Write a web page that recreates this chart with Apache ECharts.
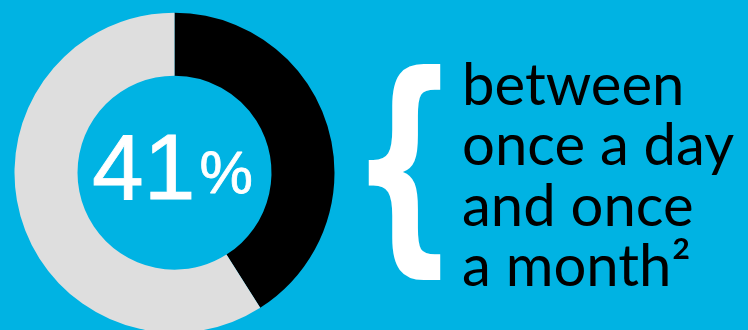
<!DOCTYPE html>
<html>
<head>
<meta charset="utf-8">
<script src="https://cdn.jsdelivr.net/npm/echarts@6/dist/echarts.min.js"></script>
<style>
  html, body { margin: 0; padding: 0; background: #00B3E3; }
  #chart { width: 748px; height: 330px; }
</style>
</head>
<body>
<div id="chart"></div>
<script>
// Share of respondents, in percent
const categories = ['between once a day and once a month', 'other'];
const shares = [41, 59];
const sliceColors = ['#000000', '#DEDEDE'];
// Caption lines beside the brace
const captionLines = ['between', 'once a day', 'and once', 'a month\u00B2'];

const chart = echarts.init(document.getElementById('chart'), null, { renderer: 'canvas' });

const centerFont = '"Liberation Sans", Arial, sans-serif';
const centerText = { fontFamily: centerFont, color: '#ffffff', textBorderColor: '#ffffff', textBorderWidth: 0.8, verticalAlign: 'middle' };

chart.setOption({
  backgroundColor: '#00B3E3',
  animation: false,
  series: [{
    type: 'pie',
    center: [174.5, 172.7],
    radius: [97, 160],
    startAngle: 90,
    clockwise: true,
    silent: true,
    avoidLabelOverlap: false,
    labelLine: { show: false },
    label: { show: false },
    data: categories.map((name, i) => ({
      name,
      value: shares[i],
      itemStyle: { color: sliceColors[i] },
      label: i === 0 ? {
        show: true,
        position: 'center',
        offset: [-2, 1],
        fontFamily: centerFont,
        color: '#ffffff',
        formatter: p => '{num|' + p.value + '}{pct|%}',
        rich: {
          num: Object.assign({ fontSize: 93 }, centerText),
          pct: Object.assign({ fontSize: 60, padding: [6, 0, 0, 4] }, centerText)
        }
      } : { show: false }
    }))
  }],
  graphic: [
    {
      type: 'text',
      x: 404.5,
      y: 181,
      scaleX: 0.66,
      style: {
        text: '{',
        fontFamily: 'DejaVu Sans',
        fontWeight: 'bold',
        fontSize: 234,
        fill: '#ffffff',
        align: 'center',
        verticalAlign: 'middle'
      }
    },
    {
      type: 'text',
      x: 462,
      y: 177,
      style: {
        text: captionLines.join('\n'),
        fontFamily: 'Lato',
        fontSize: 58,
        lineHeight: 60.5,
        fill: '#000000',
        align: 'left',
        verticalAlign: 'middle'
      }
    }
  ]
});
</script>
</body>
</html>
